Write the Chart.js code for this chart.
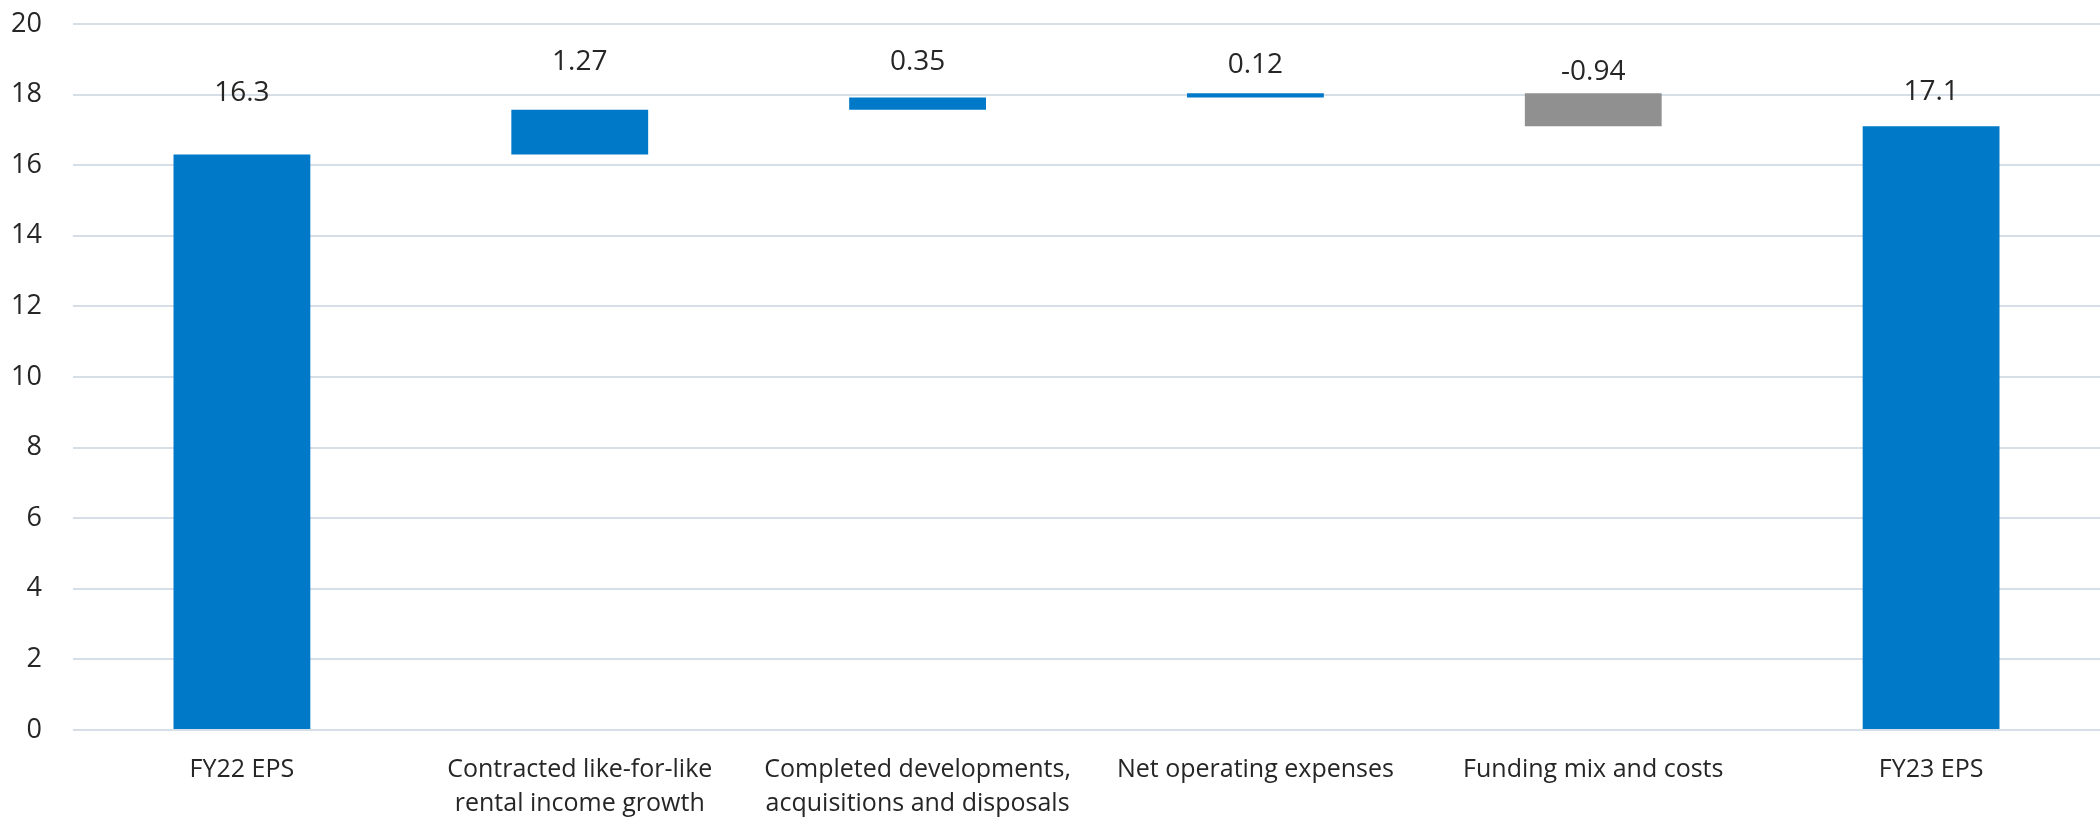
<!DOCTYPE html>
<html>
<head>
<meta charset="utf-8">
<script src="https://cdn.jsdelivr.net/npm/chart.js@4/dist/chart.umd.min.js"></script>
<style>
  html, body { margin: 0; padding: 0; background: #ffffff; }
  #wrap { width: 2100px; height: 822px; }
</style>
</head>
<body>
<div id="wrap"><canvas id="eps"></canvas></div>
<script>
// categorias del puente de EPS
const categories = [
  "FY22 EPS",
  ["Contracted like-for-like", "rental income growth"],
  ["Completed developments,", "acquisitions and disposals"],
  "Net operating expenses",
  "Funding mix and costs",
  "FY23 EPS"
];
// valores mostrados encima de cada barra
const shownValues = ["16.3", "1.27", "0.35", "0.12", "-0.94", "17.1"];
// inicio y fin de cada barra flotante
const barStart = [0, 16.3, 17.57, 17.92, 18.04, 0];
const barEnd = [16.3, 17.57, 17.92, 18.04, 17.1, 17.1];
const yTicks = [0, 2, 4, 6, 8, 10, 12, 14, 16, 18, 20];

const BLUE = "#0079c8";
const GREY = "#8f908f";
const FONT = "'Open Sans', sans-serif";

// etiquetas encima de las barras
const topLabels = {
  id: "topLabels",
  afterDatasetsDraw(chart, args, opts) {
    const ctx = chart.ctx;
    const meta = chart.getDatasetMeta(0);
    ctx.save();
    ctx.font = "28px " + FONT;
    ctx.fillStyle = "#262626";
    ctx.textAlign = "center";
    ctx.textBaseline = "middle";
    meta.data.forEach((bar, i) => {
      const top = Math.min(bar.y, bar.base);
      ctx.fillText(shownValues[i], bar.x, top - opts.offsets[i]);
    });
    ctx.restore();
  }
};

const ctx = document.getElementById("eps").getContext("2d");
new Chart(ctx, {
  type: "bar",
  data: {
    labels: categories,
    datasets: [{
      data: barStart.map((s, i) => [s, barEnd[i]]),
      backgroundColor: barStart.map((s, i) => barEnd[i] < s ? GREY : BLUE),
      barPercentage: 0.405,
      categoryPercentage: 1
    }]
  },
  options: {
    responsive: true,
    maintainAspectRatio: false,
    animation: false,
    layout: { padding: { top: 24, right: 0, left: 0, bottom: 0 } },
    plugins: {
      legend: { display: false },
      tooltip: { enabled: false },
      topLabels: { offsets: [62, 48, 35, 28, 21, 34] }
    },
    scales: {
      x: {
        afterFit(scale) {
          scale.height = 92;
          scale.paddingLeft = 0;
          scale.paddingRight = 0;
        },
        grid: { display: false },
        border: { display: false },
        ticks: {
          color: "#262626",
          font: { family: FONT, size: 25, lineHeight: 1.36 },
          maxRotation: 0,
          autoSkip: false,
          padding: 15
        }
      },
      y: {
        min: 0,
        max: 20,
        afterBuildTicks(scale) {
          scale.ticks = yTicks.map(v => ({ value: v }));
        },
        afterFit(scale) {
          scale.width = 73;
          scale.paddingTop = 0;
          scale.paddingBottom = 0;
        },
        grid: { color: "#d6dee7", lineWidth: 2, drawTicks: false },
        border: { display: false },
        ticks: {
          color: "#262626",
          font: { family: FONT, size: 27 },
          padding: 31
        }
      }
    }
  },
  plugins: [topLabels]
});
</script>
</body>
</html>
